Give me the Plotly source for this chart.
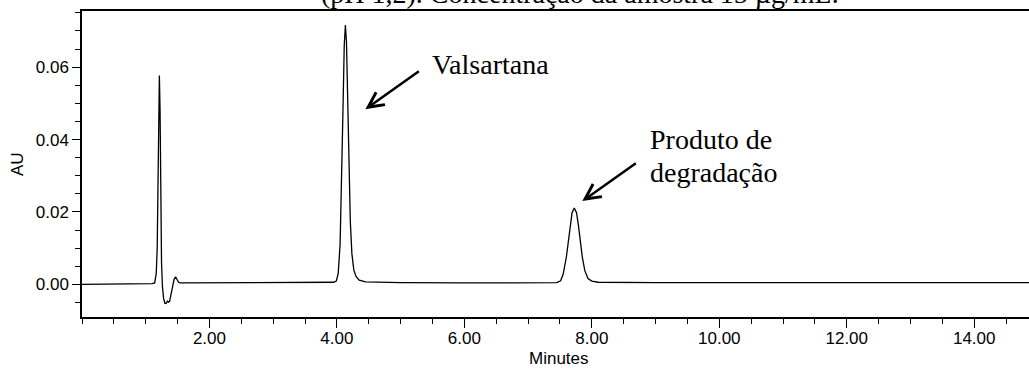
import plotly.graph_objects as go

# Chromatogram (time in minutes, absorbance in AU)
time_min = [0.00, 0.50, 1.00, 1.10, 1.14, 1.165, 1.180, 1.192, 1.204, 1.214,
            1.225, 1.236, 1.248, 1.262, 1.280, 1.300, 1.320, 1.340, 1.355, 1.375,
            1.395, 1.420, 1.445, 1.468, 1.490, 1.515, 1.545, 2.00, 3.00, 3.95,
            3.99, 4.02, 4.05, 4.075, 4.095, 4.115, 4.133, 4.150, 4.170, 4.190,
            4.210, 4.235, 4.265, 4.30, 4.35, 4.45, 5.00, 6.00, 7.00, 7.45,
            7.51, 7.55, 7.60, 7.63, 7.66, 7.69, 7.725, 7.76, 7.79, 7.82,
            7.85, 7.89, 7.94, 8.00, 8.10, 9.00, 11.00, 13.00, 14.86]
absorbance = [0.0000, 0.0000, 0.0001, 0.0002, 0.0004, 0.0030, 0.0100, 0.0300, 0.0500, 0.0577,
              0.0480, 0.0250, 0.0060, -0.0005, -0.0038, -0.0052, -0.0053, -0.0046, -0.0049, -0.0047,
              -0.0030, -0.0008, 0.0014, 0.0021, 0.0015, 0.0006, 0.0004, 0.0004, 0.0005, 0.0006,
              0.0009, 0.0030, 0.0110, 0.0280, 0.0480, 0.0660, 0.0716, 0.0670, 0.0500, 0.0310,
              0.0175, 0.0085, 0.0040, 0.0022, 0.0012, 0.0007, 0.0005, 0.0004, 0.0005, 0.0005,
              0.0010, 0.0028, 0.0075, 0.0120, 0.0165, 0.0198, 0.0211, 0.0198, 0.0163, 0.0118,
              0.0076, 0.0038, 0.0016, 0.0009, 0.0006, 0.0005, 0.0005, 0.0005, 0.0005]

x_tick_vals = [2, 4, 6, 8, 10, 12, 14]
x_tick_text = ["2.00", "4.00", "6.00", "8.00", "10.00", "12.00", "14.00"]
y_tick_vals = [0.00, 0.02, 0.04, 0.06]
y_tick_text = ["0.00", "0.02", "0.04", "0.06"]

title_text = "(pH 1,2). Concentração da amostra 15 µg/mL."
label_valsartana = "Valsartana"
label_prod_1 = "Produto de"
label_prod_2 = "degradação"

fig = go.Figure()
fig.add_trace(go.Scatter(x=time_min, y=absorbance, mode="lines",
                         line=dict(color="black", width=1.3), hoverinfo="skip"))

tick_font = dict(family="Liberation Sans, Arial", size=17, color="black")
serif = dict(family="Liberation Serif, Times New Roman", size=28, color="black")

fig.update_layout(
    width=1029, height=369,
    margin=dict(l=82, r=0, t=11, b=52),
    plot_bgcolor="white", paper_bgcolor="white",
    showlegend=False,
    xaxis=dict(range=[0, 14.86], showline=True, linecolor="black", linewidth=1.5,
               mirror=True, ticks="outside", ticklen=9, tickwidth=1, tickcolor="black",
               tickmode="array", tickvals=x_tick_vals, ticktext=x_tick_text,
               tickfont=tick_font, showgrid=False, zeroline=False,
               ticklabelstandoff=-4,
               minor=dict(tickmode="linear", tick0=0, dtick=0.5, ticks="outside",
                          ticklen=5, tickwidth=1, tickcolor="black", showgrid=False)),
    yaxis=dict(range=[-0.009, 0.0755], showline=True, linecolor="black", linewidth=1.5,
               ticks="outside", ticklen=8, tickwidth=1, tickcolor="black",
               tickmode="array", tickvals=y_tick_vals, ticktext=y_tick_text,
               tickfont=tick_font, showgrid=False, zeroline=False,
               minor=dict(tickmode="linear", tick0=0, dtick=0.005, ticks="outside",
                          ticklen=5, tickwidth=1, tickcolor="black", showgrid=False)),
)

ann = []
ann.append(dict(text=title_text, xref="paper", yref="paper", x=0.526, y=1.058,
                xanchor="center", yanchor="middle", showarrow=False, font=serif))
ann.append(dict(text="AU", xref="paper", yref="paper", x=-0.0686, y=0.5,
                textangle=-90, xanchor="center", yanchor="middle", showarrow=False,
                font=tick_font))
ann.append(dict(text="Minutes", xref="paper", yref="paper", x=0.5037, y=-0.134,
                xanchor="center", yanchor="middle", showarrow=False, font=tick_font))
ann.append(dict(text=label_valsartana, xref="x", yref="y", x=5.467, y=0.0606,
                xanchor="left", yanchor="middle", showarrow=False, font=serif))
ann.append(dict(text=label_prod_1, xref="x", yref="y", x=9.875, y=0.0399,
                xanchor="center", yanchor="middle", showarrow=False, font=serif))
ann.append(dict(text=label_prod_2, xref="x", yref="y", x=9.906, y=0.0310,
                xanchor="center", yanchor="middle", showarrow=False, font=serif))
# arrows
ann.append(dict(text="", xref="x", yref="y", x=4.447, y=0.0484, ax=55, ay=-39,
                axref="pixel", ayref="pixel", showarrow=True, arrowhead=5,
                arrowsize=1.2, arrowwidth=2.5, arrowcolor="black", standoff=0))
ann.append(dict(text="", xref="x", yref="y", x=7.851, y=0.0230, ax=55, ay=-39,
                axref="pixel", ayref="pixel", showarrow=True, arrowhead=5,
                arrowsize=1.2, arrowwidth=2.5, arrowcolor="black", standoff=0))
fig.update_layout(annotations=ann)

fig.write_html("out.html")
